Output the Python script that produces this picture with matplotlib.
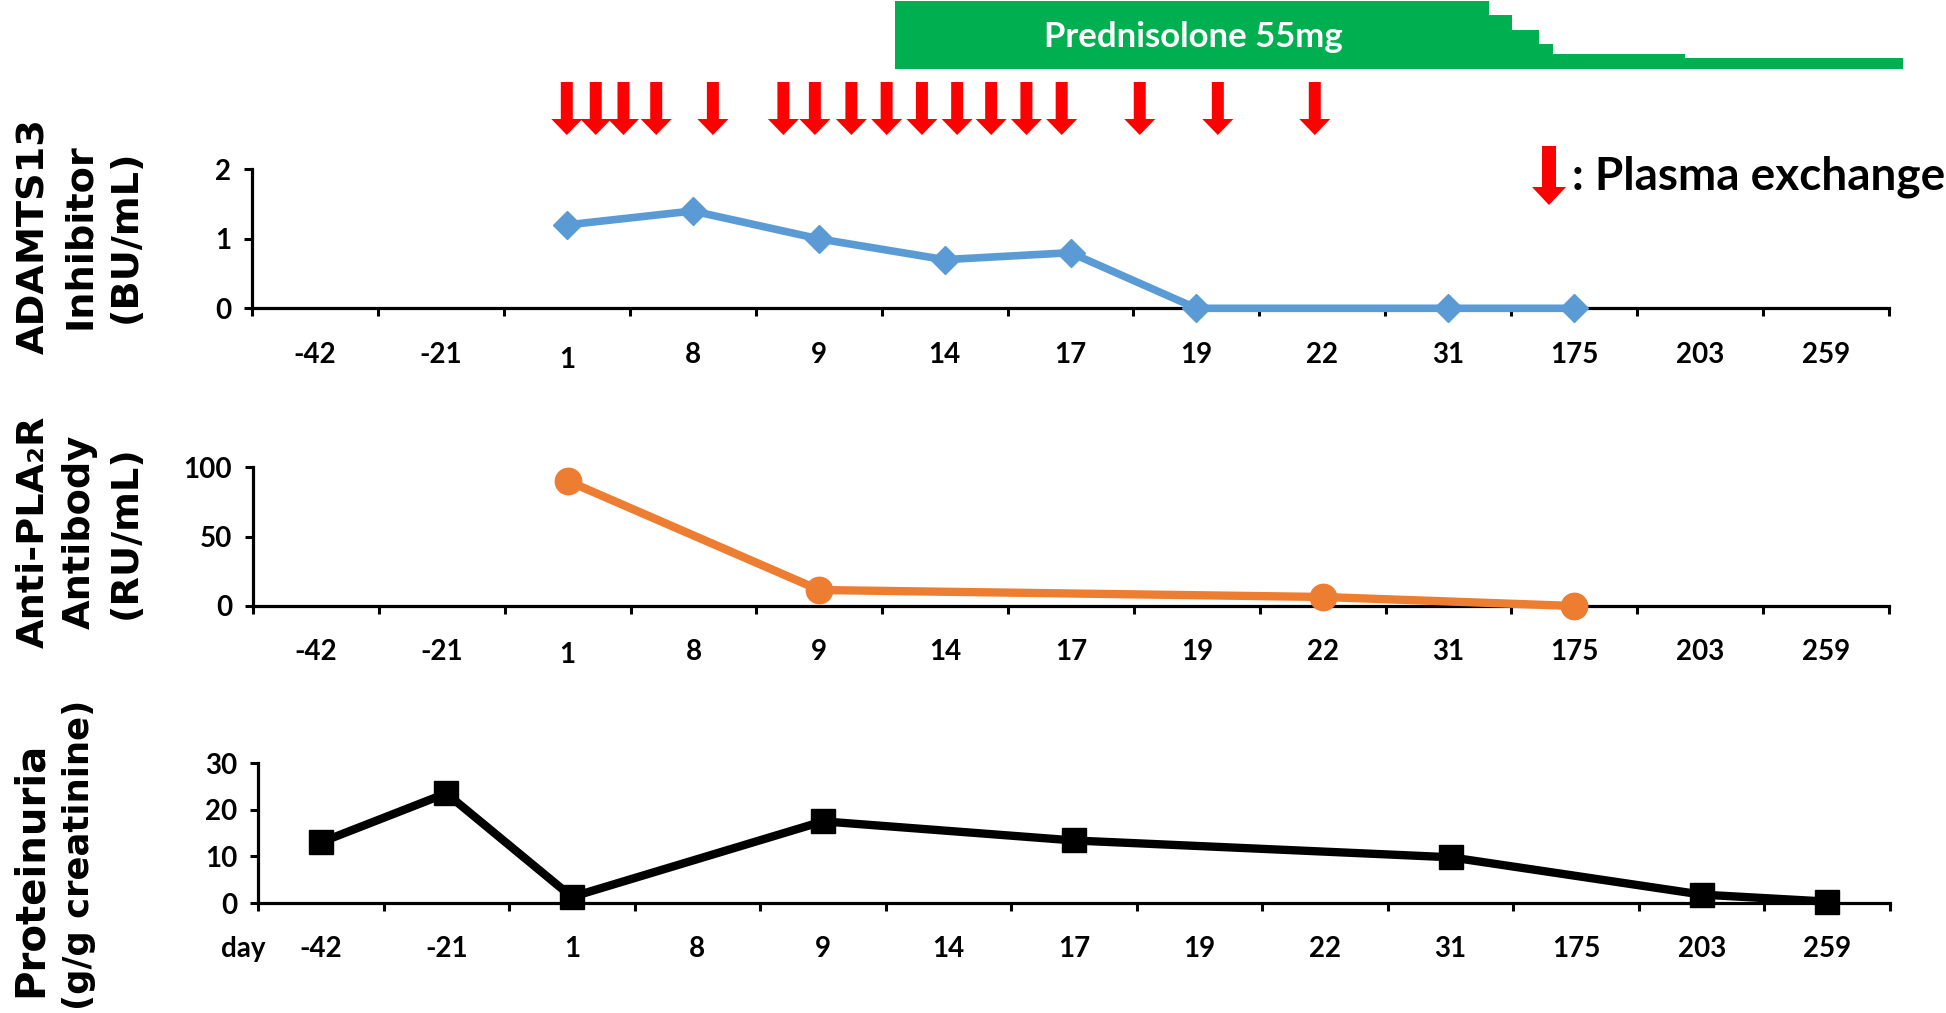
import numpy as np
import matplotlib
matplotlib.use('Agg')
import matplotlib.pyplot as plt
from matplotlib.patches import Polygon
from matplotlib.transforms import ScaledTranslation

W, H = 1946, 1013
DPI = 100

# ---------------- data ----------------
days = ['-42', '-21', '1', '8', '9', '14', '17', '19', '22', '31', '175', '203', '259']
adamts13 = [None, None, 1.2, 1.4, 1.0, 0.7, 0.8, 0.0, None, 0.0, 0.0, None, None]
pla2r = [None, None, 90, None, 11.5, None, None, None, 6.5, None, 0.0, None, None]
proteinuria = [13.0, 23.5, 1.3, None, 17.5, None, 13.4, None, None, 9.8, None, 1.8, 0.3]
# plasma exchange positions (in category units on the day axis)
pe_pos = [2.00, 2.23, 2.45, 2.71, 3.16, 3.72, 3.97, 4.26, 4.54, 4.82,
          5.10, 5.37, 5.65, 5.93, 6.55, 7.17, 7.94]
# prednisolone taper (step edges in category units, dose in mg)
pred_edges = [4.61, 9.32, 9.51, 9.72, 9.83, 10.88, 12.61]
pred_dose = [55, 44, 32, 20, 12, 9]

BLUE = '#5B9BD5'
ORANGE = '#ED7D31'
GREEN = '#00B050'
RED = '#FF0000'

TICKFONT = dict(family='Lato', weight='bold', size=20)
LABFONT = dict(family='DejaVu Sans', weight='bold', size=27.5)

fig = plt.figure(figsize=(W / DPI, H / DPI), dpi=DPI)
n = len(days)


def add_px_axes(l, r, ybot, ytop, **kw):
    return fig.add_axes([l / W, (H - ybot) / H, (r - l) / W, (ybot - ytop) / H], **kw)


def panel(l, r, ybot, ytop, ylim, yticks, values, color, marker, ms, lw):
    ax = add_px_axes(l, r, ybot, ytop)
    idx = [i for i, v in enumerate(values) if v is not None]
    vals = [values[i] for i in idx]
    ax.plot(idx, vals, color=color, lw=lw, marker=marker, ms=ms,
            mec=color, mfc=color, clip_on=False, zorder=5,
            solid_joinstyle='round', solid_capstyle='round')
    ax.set_xlim(-0.5, n - 0.5)
    ax.set_ylim(*ylim)
    for s in ['top', 'right']:
        ax.spines[s].set_visible(False)
    for s in ['left', 'bottom']:
        ax.spines[s].set_linewidth(2.3)
        ax.spines[s].set_color('black')
    ax.set_xticks(np.arange(-0.5, n, 1.0))
    ax.set_xticklabels([])
    ax.set_xticks(np.arange(n), minor=True)
    ax.set_xticklabels(days, minor=True, fontdict=TICKFONT)
    ax.tick_params(axis='x', which='major', direction='out', length=6, width=2.2)
    ax.tick_params(axis='x', which='minor', length=0, pad=24)
    ax.set_yticks(yticks)
    ax.set_yticklabels([str(t) for t in yticks], fontdict=TICKFONT)
    ax.tick_params(axis='y', direction='out', length=6, width=2.2, pad=9)
    ax.patch.set_alpha(0)
    return ax


ax1 = panel(252, 1889, 308.3, 169.3, (0, 2), [0, 1, 2], adamts13, BLUE, 'D', 14.5, 5.5)
ax2 = panel(253, 1889, 606, 467, (0, 100), [0, 50, 100], pla2r, ORANGE, 'o', 19, 6.0)
ax3 = panel(258, 1890, 903, 763, (0, 30), [0, 10, 20, 30], proteinuria, 'black', 's', 17.5, 6.0)

# ---------------- prednisolone bar ----------------
pax = add_px_axes(252, 1889, 69.3, 1.0)
pax.set_xlim(-0.5, n - 0.5)
pax.set_ylim(0, 55)
pax.axis('off')
pax.fill_between(pred_edges, pred_dose + [pred_dose[-1]], 0, step='post',
                 color=GREEN, lw=0, clip_on=False)

# ---------------- plasma exchange arrows ----------------
aax = add_px_axes(252, 1889, 135, 82)
aax.set_xlim(-0.5, n - 0.5)
aax.set_ylim(0, 1)
aax.axis('off')
upx = n / (1889 - 252)          # category units per pixel
hs, hh, hl = 6.0, 15.5, 16.0 / 53.0   # shaft half width px, head half width px, head length frac


def arrow_poly(xc, hs_u, hh_u, hl_f, top=1.0, tip=0.0):
    yh = tip + hl_f * (top - tip)
    return [(xc - hs_u, top), (xc + hs_u, top), (xc + hs_u, yh), (xc + hh_u, yh),
            (xc, tip), (xc - hh_u, yh), (xc - hs_u, yh)]


for p in pe_pos:
    aax.add_patch(Polygon(arrow_poly(p, hs * upx, hh * upx, hl), closed=True,
                          fc=RED, ec='none', clip_on=False))

# ---------------- overlay in pixel space: texts + legend ----------------
ov = fig.add_axes([0, 0, 1, 1], zorder=10)
ov.set_xlim(0, W)
ov.set_ylim(H, 0)
ov.axis('off')
ov.patch.set_alpha(0)

ov.text(1193, 37, 'Prednisolone 55mg', color='white', ha='center', va='center',
        family='Lato', weight='bold', size=25)

lx, ltop, lhead, ltip = 1549, 146, 187, 205
ov.add_patch(Polygon([(lx - 7, ltop), (lx + 7, ltop), (lx + 7, lhead), (lx + 17, lhead),
                      (lx, ltip), (lx - 17, lhead), (lx - 7, lhead)],
                     closed=True, fc=RED, ec='none'))
ov.text(1572, 177, ': Plasma exchange', ha='left', va='center',
        family='Lato', weight='bold', size=33)

ov.text(80, 236, 'ADAMTS13\nInhibitor\n(BU/mL)', rotation=90, ha='center', va='center',
        multialignment='center', linespacing=1.36, **LABFONT)
ov.text(80, 532, 'Anti-PLA\u2082R\nAntibody\n(RU/mL)', rotation=90, ha='center', va='center',
        multialignment='center', linespacing=1.36, **LABFONT)
ov.text(31, 869, 'Proteinuria', rotation=90, ha='center', va='center',
        family='DejaVu Sans', weight='bold', size=29)
ov.text(79, 855, '(g/g creatinine)', rotation=90, ha='center', va='center',
        family='DejaVu Sans', weight='bold', size=25.5)

ov.text(243, 949, 'day', ha='center', va='center', **TICKFONT)

# the "1" labels sit a little lower in the upper two panels
fig.canvas.draw()
for ax, dy in ((ax1, 0.05), (ax2, 0.025)):
    for t in ax.xaxis.get_minor_ticks():
        if t.label1.get_text() == '1':
            t.label1.set_transform(t.label1.get_transform() +
                                   ScaledTranslation(0, -dy, fig.dpi_scale_trans))

fig.savefig('out.png', dpi=DPI)
